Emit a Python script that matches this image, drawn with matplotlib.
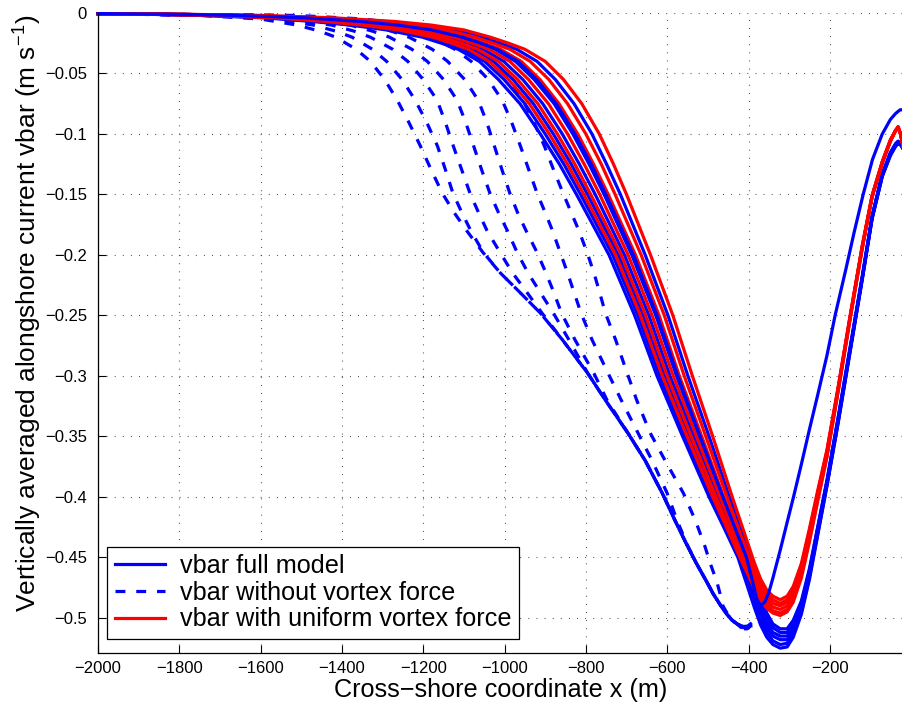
import matplotlib
matplotlib.use("Agg")
import matplotlib.pyplot as plt
from matplotlib.lines import Line2D

plt.rcParams['font.family'] = ['Liberation Sans', 'DejaVu Sans']

# ---------------------------------------------------------------------------
# Data (cross-shore position x in m, alongshore current vbar in m/s)
# ---------------------------------------------------------------------------

# Offshore and descending flank of the solid profiles:
# x where vbar reaches each of these levels
v_levels = [-0.0005, -0.001, -0.002, -0.004, -0.007, -0.01, -0.014, -0.02, -0.025,
            -0.03, -0.04, -0.055, -0.075, -0.10, -0.125, -0.15, -0.20, -0.25, -0.30,
            -0.35, -0.40, -0.425, -0.45]
# Trough and shoreward part of the solid profiles, sampled at fixed x
x_bot = [-385, -370, -355, -340, -322, -305, -290, -270, -250, -230, -207, -180,
         -150, -120, -96, -71, -51, -38, -32, -26, -20]

# Full model, six later snapshots
full_xlev = [
    [-2000, -1811, -1618, -1441, -1295, -1205, -1124, -1056, -1011, -970, -920, -875, -829, -785, -749, -715, -654, -598, -549, -497, -447, -421, -395],
    [-2000, -1839, -1665, -1496, -1361, -1270, -1185, -1110, -1064, -1023, -973, -927, -878, -832, -792, -755, -687, -628, -577, -521, -465, -436, -406],
    [-2000, -1855, -1691, -1526, -1397, -1306, -1219, -1140, -1094, -1053, -1002, -955, -906, -858, -816, -777, -705, -645, -593, -534, -475, -444, -413],
    [-2000, -1868, -1713, -1552, -1428, -1336, -1248, -1165, -1119, -1078, -1027, -979, -929, -880, -836, -796, -720, -659, -606, -546, -484, -451, -418],
    [-2000, -1880, -1733, -1576, -1456, -1364, -1274, -1188, -1142, -1100, -1049, -1001, -950, -900, -854, -813, -734, -672, -618, -556, -492, -458, -423],
    [-2000, -1887, -1745, -1590, -1473, -1380, -1290, -1202, -1155, -1114, -1062, -1015, -962, -912, -865, -823, -743, -680, -625, -562, -497, -461, -426],
]
full_bot = [
    [-0.463, -0.482, -0.496, -0.505, -0.509, -0.509, -0.502, -0.486, -0.459, -0.425, -0.386, -0.335, -0.276, -0.217, -0.168, -0.133, -0.115, -0.108, -0.106, -0.108, -0.111],
    [-0.470, -0.487, -0.500, -0.508, -0.512, -0.512, -0.505, -0.488, -0.461, -0.426, -0.387, -0.336, -0.277, -0.218, -0.168, -0.133, -0.116, -0.108, -0.106, -0.108, -0.111],
    [-0.476, -0.492, -0.504, -0.512, -0.515, -0.515, -0.508, -0.490, -0.463, -0.428, -0.388, -0.337, -0.278, -0.218, -0.169, -0.134, -0.116, -0.109, -0.107, -0.108, -0.111],
    [-0.483, -0.496, -0.508, -0.515, -0.518, -0.518, -0.511, -0.492, -0.464, -0.429, -0.389, -0.338, -0.278, -0.219, -0.169, -0.134, -0.117, -0.109, -0.107, -0.108, -0.112],
    [-0.488, -0.501, -0.512, -0.519, -0.522, -0.521, -0.513, -0.495, -0.466, -0.431, -0.390, -0.339, -0.279, -0.219, -0.170, -0.135, -0.117, -0.110, -0.108, -0.109, -0.112],
    [-0.492, -0.506, -0.516, -0.522, -0.525, -0.524, -0.516, -0.497, -0.468, -0.432, -0.391, -0.340, -0.280, -0.220, -0.170, -0.135, -0.118, -0.110, -0.108, -0.109, -0.112],
]

# Full model, first snapshot: narrower trough and an earlier shoreward rise
first_xlev = [-2000, -1836, -1660, -1490, -1354, -1263, -1179, -1104, -1058, -1018, -967, -921,
              -873, -827, -787, -751, -683, -625, -574, -519, -463, -434, -405]
first_bot_x = [-390, -380, -370, -360, -350, -340, -322, -305, -290, -270, -250, -230,
               -207, -187, -160, -140, -118, -95, -71, -51, -38, -27, -20]
first_bot_v = [-0.470, -0.484, -0.490, -0.487, -0.479, -0.467, -0.444, -0.421, -0.401,
               -0.373, -0.344, -0.316, -0.283, -0.250, -0.211, -0.181, -0.150, -0.121,
               -0.100, -0.088, -0.083, -0.080, -0.080]

# Uniform vortex force, six snapshots
unif_xlev = [
    [-2000, -1800, -1600, -1420, -1270, -1180, -1100, -1035, -990, -950, -900, -855, -810, -767, -732, -700, -641, -586, -538, -488, -440, -415, -390],
    [-2000, -1820, -1633, -1459, -1316, -1226, -1143, -1073, -1028, -987, -937, -891, -845, -800, -762, -728, -664, -607, -558, -505, -453, -426, -398],
    [-2000, -1832, -1653, -1482, -1344, -1253, -1169, -1096, -1050, -1010, -959, -913, -866, -820, -781, -745, -678, -620, -570, -515, -461, -432, -403],
    [-2000, -1847, -1678, -1511, -1379, -1288, -1202, -1125, -1079, -1038, -987, -941, -892, -845, -804, -766, -696, -637, -585, -528, -470, -440, -410],
    [-2000, -1862, -1703, -1541, -1414, -1322, -1235, -1153, -1107, -1066, -1015, -968, -918, -870, -827, -788, -713, -653, -600, -541, -480, -448, -416],
    [-2000, -1874, -1723, -1564, -1442, -1350, -1261, -1176, -1130, -1089, -1038, -990, -939, -890, -845, -805, -727, -666, -612, -551, -488, -454, -421],
]
unif_bot = [
    [-0.455, -0.468, -0.477, -0.482, -0.485, -0.482, -0.474, -0.455, -0.426, -0.395, -0.361, -0.310, -0.250, -0.192, -0.151, -0.123, -0.105, -0.097, -0.094, -0.100, -0.110],
    [-0.460, -0.472, -0.480, -0.485, -0.488, -0.485, -0.477, -0.457, -0.428, -0.397, -0.362, -0.311, -0.251, -0.192, -0.151, -0.123, -0.105, -0.097, -0.094, -0.100, -0.110],
    [-0.464, -0.476, -0.483, -0.488, -0.490, -0.487, -0.479, -0.460, -0.430, -0.399, -0.363, -0.312, -0.251, -0.193, -0.151, -0.123, -0.105, -0.097, -0.094, -0.100, -0.110],
    [-0.469, -0.479, -0.486, -0.491, -0.493, -0.490, -0.482, -0.462, -0.433, -0.400, -0.364, -0.312, -0.252, -0.193, -0.152, -0.124, -0.106, -0.097, -0.095, -0.100, -0.110],
    [-0.473, -0.483, -0.489, -0.494, -0.496, -0.493, -0.485, -0.465, -0.435, -0.402, -0.366, -0.313, -0.252, -0.194, -0.152, -0.124, -0.106, -0.097, -0.095, -0.100, -0.110],
    [-0.476, -0.486, -0.492, -0.496, -0.498, -0.495, -0.487, -0.467, -0.437, -0.404, -0.367, -0.314, -0.253, -0.194, -0.152, -0.124, -0.106, -0.097, -0.095, -0.100, -0.110],
]

# No vortex force: x where vbar reaches each level, then the trough
novf_levels = [-0.0005, -0.002, -0.005, -0.01, -0.015, -0.02, -0.03, -0.04, -0.055,
               -0.072, -0.09, -0.11, -0.13, -0.149, -0.165, -0.18, -0.198, -0.215,
               -0.23, -0.248, -0.27, -0.298, -0.32, -0.347, -0.37, -0.397, -0.42,
               -0.44, -0.455, -0.47, -0.48, -0.49, -0.497, -0.502, -0.505]
novf_x = [
    [-2000, -1750, -1600, -1510, -1455, -1415, -1365, -1330, -1295, -1264, -1236, -1207, -1180, -1153, -1124, -1093, -1053, -1010, -965, -912, -858, -795, -752, -697, -654, -612, -580, -551, -528, -503, -487, -468, -453, -440, -428],
    [-2000, -1720, -1565, -1470, -1415, -1375, -1325, -1290, -1252, -1220, -1192, -1165, -1145, -1127, -1105, -1083, -1052, -1010, -965, -912, -858, -795, -752, -697, -654, -612, -580, -551, -528, -503, -487, -468, -453, -440, -428],
    [-2000, -1690, -1530, -1425, -1370, -1330, -1275, -1238, -1200, -1166, -1146, -1126, -1105, -1085, -1064, -1043, -1011, -980, -947, -908, -858, -795, -752, -697, -654, -612, -580, -551, -528, -503, -487, -468, -453, -440, -428],
    [-2000, -1650, -1490, -1380, -1325, -1283, -1228, -1190, -1150, -1117, -1096, -1076, -1056, -1036, -1015, -993, -969, -942, -914, -880, -842, -795, -752, -697, -654, -612, -580, -551, -528, -503, -487, -468, -453, -440, -428],
    [-2000, -1610, -1445, -1335, -1278, -1235, -1178, -1140, -1098, -1065, -1044, -1025, -1006, -987, -968, -947, -920, -898, -880, -860, -827, -780, -748, -697, -654, -612, -580, -551, -528, -503, -487, -468, -453, -440, -428],
    [-2000, -1560, -1395, -1285, -1225, -1180, -1122, -1082, -1040, -1006, -983, -961, -940, -920, -900, -882, -863, -845, -830, -812, -785, -745, -713, -672, -637, -600, -575, -550, -528, -503, -487, -468, -453, -440, -428],
    [-2000, -1510, -1345, -1235, -1175, -1130, -1072, -1030, -988, -955, -928, -902, -879, -856, -836, -817, -797, -780, -767, -752, -727, -698, -675, -642, -605, -560, -530, -508, -494, -478, -470, -463, -451, -440, -428],
]
novf_tail_x = [-415, -403, -392]
novf_tail_v = [
    [-0.507, -0.507, -0.504],
    [-0.507, -0.507, -0.504],
    [-0.507, -0.507, -0.505],
    [-0.508, -0.508, -0.505],
    [-0.508, -0.508, -0.506],
    [-0.509, -0.509, -0.506],
    [-0.509, -0.509, -0.507],
]

x_ticks = [-2000, -1800, -1600, -1400, -1200, -1000, -800, -600, -400, -200]
y_ticks = [0, -0.05, -0.1, -0.15, -0.2, -0.25, -0.3, -0.35, -0.4, -0.45, -0.5]
y_ticklabels = ['0', '\u22120.05', '\u22120.1', '\u22120.15', '\u22120.2', '\u22120.25',
                '\u22120.3', '\u22120.35', '\u22120.4', '\u22120.45', '\u22120.5']
x_ticklabels = [str(t).replace('-', '\u2212') for t in x_ticks]

BLUE = (0, 0, 1)
RED = (1, 0, 0)
LW = 2.3
DASH = (0, (3.1, 3.4))


def solid_profile(xlev, bot_x, bot_v):
    return list(xlev) + list(bot_x), list(v_levels) + list(bot_v)


fig = plt.figure(figsize=(9.03, 7.03), dpi=100)
ax = fig.add_axes([98 / 903, 50 / 703, 805 / 903, 640 / 703])

# no vortex force (dashed)
for xs, tail in zip(novf_x, novf_tail_v):
    ax.plot(list(xs) + novf_tail_x, list(novf_levels) + tail, color=BLUE,
            lw=LW, linestyle=DASH, dash_capstyle='butt', clip_on=False)

# full model, later snapshots
for xlev, bot in zip(full_xlev, full_bot):
    xs, vs = solid_profile(xlev, x_bot, bot)
    ax.plot(xs, vs, color=BLUE, lw=LW, solid_joinstyle='round', clip_on=False)

# uniform vortex force
for xlev, bot in zip(unif_xlev, unif_bot):
    xs, vs = solid_profile(xlev, x_bot, bot)
    ax.plot(xs, vs, color=RED, lw=LW, solid_joinstyle='round', clip_on=False)

# full model, first snapshot
xs, vs = solid_profile(first_xlev, first_bot_x, first_bot_v)
ax.plot(xs, vs, color=BLUE, lw=LW, solid_joinstyle='round', clip_on=False)

ax.set_xlim(-2000, -20)
ax.set_ylim(-0.529, 0)
ax.set_xticks(x_ticks)
ax.set_xticklabels(x_ticklabels)
ax.set_yticks(y_ticks)
ax.set_yticklabels(y_ticklabels)
ax.tick_params(direction='in', length=6, width=0.8, labelsize=12, pad=6)
ax.tick_params(axis='y', pad=8)
ax.grid(True, color='0.25', linestyle=(0, (0.8, 6.5)), linewidth=0.8)
ax.set_axisbelow(True)
for side in ('top', 'right'):
    ax.spines[side].set_visible(False)
for side in ('left', 'bottom'):
    ax.spines[side].set_linewidth(0.9)

ax.set_xlabel('Cross\u2212shore coordinate x (m)', fontsize=18.2, labelpad=1)
ax.set_ylabel('Vertically averaged alongshore current vbar (m s$^{\\mathregular{\u22121}}$)',
              fontsize=18.9)
ax.yaxis.set_label_coords(-0.068, 0.531)

handles = [
    Line2D([], [], color=BLUE, lw=LW),
    Line2D([], [], color=BLUE, lw=LW, linestyle=DASH, dash_capstyle='butt'),
    Line2D([], [], color=RED, lw=LW),
]
labels = ['vbar full model', 'vbar without vortex force', 'vbar with uniform vortex force']
leg = ax.legend(handles, labels, loc='lower left', bbox_to_anchor=(0.0112, 0.0219),
                borderaxespad=0, fontsize=18.2, handlelength=2.0, handletextpad=0.6,
                labelspacing=0.1, borderpad=0.3, fancybox=False, framealpha=1,
                edgecolor='black')
leg.get_frame().set_linewidth(0.9)

fig.savefig('out.png', dpi=100)
